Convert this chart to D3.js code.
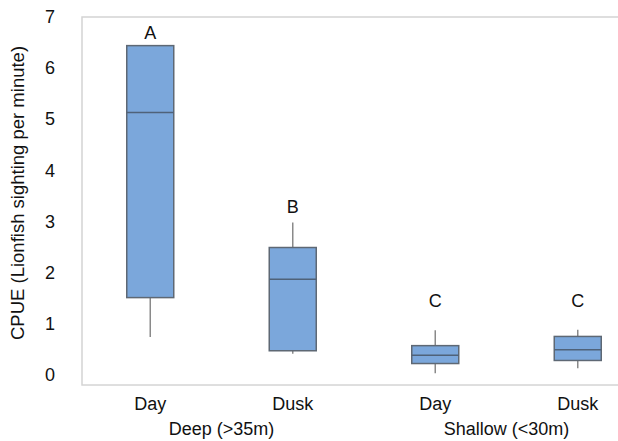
<!DOCTYPE html>
<html>
<head>
<meta charset="utf-8">
<script src="https://cdn.jsdelivr.net/npm/d3@7"></script>
<style>
  body { margin: 0; background: #fff; }
  text { font-family: "Liberation Sans", Arial, sans-serif; fill: #111; }
  .y.axis text { font-size: 18px; }
  .x.axis text { font-size: 18px; }
</style>
</head>
<body>
<div id="chart-container"></div>
<script>
const width = 618,
  height = 441;

// groups and conditions, in plot order
const categories = ['Deep Day', 'Deep Dusk', 'Shallow Day', 'Shallow Dusk'];
const conditions = ['Day', 'Dusk', 'Day', 'Dusk'];
const groups = ['Deep (>35m)', 'Shallow (<30m)'];

// box plot stats
const mins    = [0.74, 0.41, 0.03, 0.13];
const q1s     = [1.51, 0.47, 0.22, 0.28];
const medians = [5.13, 1.87, 0.38, 0.49];
const q3s     = [6.44, 2.49, 0.57, 0.75];
const maxs    = [6.44, 2.98, 0.87, 0.88];

// significance letters and where they sit
const letters = ['A', 'B', 'C', 'C'];
const letterY = [6.69, 3.29, 1.45, 1.45];

const yTicks = [0, 1, 2, 3, 4, 5, 6, 7];

const plot = {left: 82, top: 17, bottom: 385, right: 640};

const svg = d3.select('#chart-container')
  .append('svg')
  .attr('width', width)
  .attr('height', height);

const xScale = d3.scaleBand()
  .domain(categories)
  .range([79, 649]);

const yScale = d3.scaleLinear()
  .domain([-0.2, 7])
  .range([plot.bottom, plot.top]);

// plot area frame
svg.append('rect')
  .attr('x', plot.left)
  .attr('y', plot.top)
  .attr('width', plot.right - plot.left)
  .attr('height', plot.bottom - plot.top)
  .attr('fill', 'none')
  .attr('stroke', '#d4d4d4')
  .attr('stroke-width', 1.5);

// y axis labels only, no line or ticks
const yAxis = svg.append('g')
  .attr('class', 'y axis')
  .attr('transform', 'translate(62, 0)')
  .call(d3.axisLeft(yScale).tickValues(yTicks).tickSize(0).tickPadding(0));
yAxis.select('.domain').remove();
yAxis.selectAll('text').attr('text-anchor', 'middle').attr('dx', -12);

svg.append('text')
  .attr('transform', `translate(24, ${(plot.top + 345) / 2 + 12}) rotate(-90)`)
  .attr('text-anchor', 'middle')
  .style('font-size', '18.5px')
  .text('CPUE (Lionfish sighting per minute)');

// x axis: condition labels and group labels
const xAxis = svg.append('g')
  .attr('class', 'x axis')
  .attr('transform', `translate(0, ${plot.bottom})`)
  .call(d3.axisBottom(xScale).tickSize(0).tickPadding(12)
    .tickFormat((_, i) => conditions[i]));
xAxis.select('.domain').remove();

svg.selectAll('text.group-label')
  .data(groups)
  .enter()
  .append('text')
  .attr('class', 'group-label')
  .attr('x', (_, i) => (xScale(categories[i * 2]) + xScale(categories[i * 2 + 1]) + xScale.bandwidth()) / 2)
  .attr('y', 435)
  .attr('text-anchor', 'middle')
  .style('font-size', '18px')
  .text(d => d);

const boxW = 47;
const cx = i => xScale(categories[i]) + xScale.bandwidth() / 2;

const boxes = svg.selectAll('g.box')
  .data(categories)
  .enter()
  .append('g')
  .attr('class', 'box');

// whiskers
boxes.append('line')
  .attr('x1', (_, i) => cx(i))
  .attr('x2', (_, i) => cx(i))
  .attr('y1', (_, i) => yScale(maxs[i]))
  .attr('y2', (_, i) => yScale(q3s[i]))
  .attr('stroke', '#8a8a8a')
  .attr('stroke-width', 1.5);
boxes.append('line')
  .attr('x1', (_, i) => cx(i))
  .attr('x2', (_, i) => cx(i))
  .attr('y1', (_, i) => yScale(q1s[i]))
  .attr('y2', (_, i) => yScale(mins[i]))
  .attr('stroke', '#8a8a8a')
  .attr('stroke-width', 1.5);

boxes.append('rect')
  .attr('x', (_, i) => cx(i) - boxW / 2)
  .attr('y', (_, i) => yScale(q3s[i]))
  .attr('width', boxW)
  .attr('height', (_, i) => yScale(q1s[i]) - yScale(q3s[i]))
  .attr('fill', '#7ba7db')
  .attr('stroke', '#5e6874')
  .attr('stroke-width', 1.5);

boxes.append('line')
  .attr('x1', (_, i) => cx(i) - boxW / 2)
  .attr('x2', (_, i) => cx(i) + boxW / 2)
  .attr('y1', (_, i) => yScale(medians[i]))
  .attr('y2', (_, i) => yScale(medians[i]))
  .attr('stroke', '#4f6279')
  .attr('stroke-width', 1.5);

boxes.append('text')
  .attr('x', (_, i) => cx(i))
  .attr('y', (_, i) => yScale(letterY[i]))
  .attr('dy', '0.35em')
  .attr('text-anchor', 'middle')
  .style('font-size', '18px')
  .text((_, i) => letters[i]);
</script>
</body>
</html>
